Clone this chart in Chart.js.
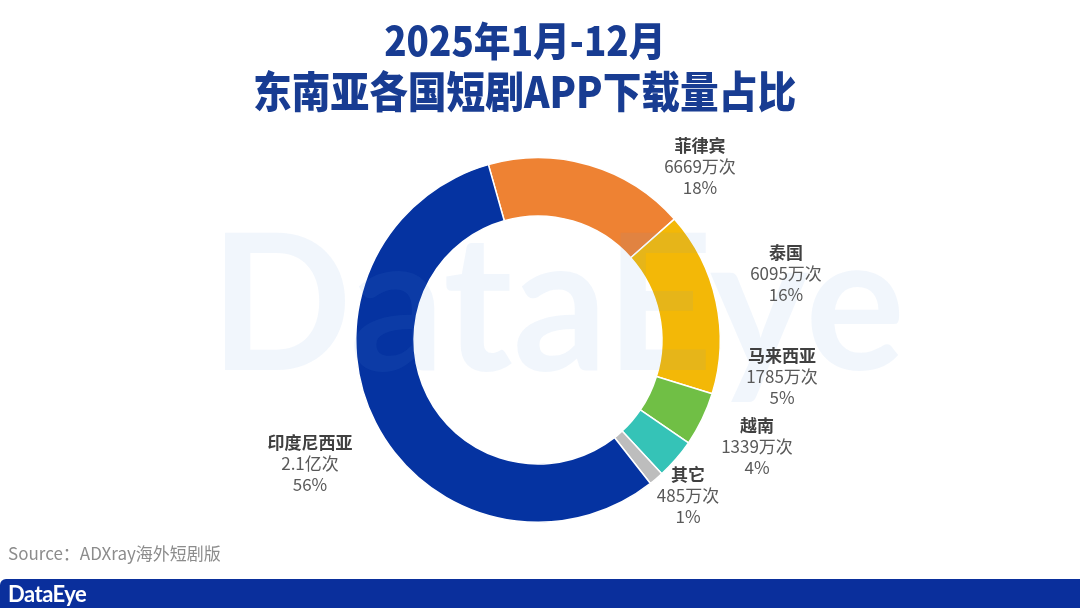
<!DOCTYPE html>
<html>
<head>
<meta charset="utf-8">
<script src="https://cdn.jsdelivr.net/npm/chart.js@4"></script>
<style>
html,body{margin:0;padding:0;background:#fff;}
#wrap{position:relative;width:1080px;height:608px;overflow:hidden;font-family:"Noto Sans CJK SC","Noto Sans",sans-serif;}
#c{position:absolute;left:0;top:0;}
.t{position:absolute;left:0;width:1080px;text-align:center;color:#183c92;font-weight:900;white-space:nowrap;transform-origin:526px 0;}
#t1{top:15px;font-size:40px;line-height:48px;left:-14px;transform:scaleX(0.92);}
#t2{top:63px;font-size:43px;line-height:52px;left:-14px;transform:scaleX(0.9);}
#src{position:absolute;left:8px;top:540px;font-size:17px;color:#8c8c8c;}
#bar{position:absolute;left:0;top:579px;width:1080px;height:29px;background:#0a2f9c;border-top-left-radius:6px;}
#logo{position:absolute;left:8px;top:0px;font-size:22px;line-height:29px;color:#fff;font-weight:700;font-family:"Lato","Noto Sans",sans-serif;letter-spacing:-0.5px;}
</style>
</head>
<body>
<div id="wrap">
<canvas id="c" width="1080" height="608"></canvas>
<div class="t" id="t1">2025年1月-12月</div>
<div class="t" id="t2">东南亚各国短剧APP下载量占比</div>
<div id="src">Source：ADXray海外短剧版</div>
<div id="bar"><div id="logo">DataEye</div></div>
</div>
<script>
// Data
const countries = ["菲律宾","泰国","马来西亚","越南","其它","印度尼西亚"];
const downloads = [6669, 6095, 1785, 1339, 485, 21000]; // 万次
const valueLabels = ["6669万次","6095万次","1785万次","1339万次","485万次","2.1亿次"];
const pctLabels = ["18%","16%","5%","4%","1%","56%"];
const colors = ["#ee8233","#f3b807","#70bf45","#35c3b7","#bdbdbd","#0533a1"];

// Label anchor offsets from doughnut centre (annotation layout)
const labelOffsets = [[162,-173],[248,-66],[244,37],[219,107],[150,156],[-228,124]];

const labelPlugin = {
  id:'labels',
  afterDraw(chart){
    const ctx = chart.ctx;
    const arc = chart.getDatasetMeta(0).data[0];
    const cx = arc.x, cy = arc.y;
    // watermark
    ctx.save();
    ctx.font = '700 190px "Lato","Noto Sans",sans-serif';
    const w = ctx.measureText('DataEye').width;
    ctx.translate(cx - 328, cy + 30);
    ctx.scale(695 / w, 1);
    ctx.fillStyle = 'rgba(90,150,215,0.085)';
    ctx.textBaseline = 'alphabetic';
    ctx.fillText('DataEye', 0, 0);
    ctx.restore();
    // labels
    ctx.save();
    ctx.textAlign = 'center';
    ctx.textBaseline = 'middle';
    countries.forEach((name, i) => {
      const x = cx + labelOffsets[i][0], y = cy + labelOffsets[i][1];
      ctx.fillStyle = '#404040';
      ctx.font = '700 17px "Noto Sans CJK SC",sans-serif';
      ctx.fillText(name, x, y - 21);
      ctx.fillStyle = '#595959';
      ctx.font = '400 17px "Noto Sans CJK SC",sans-serif';
      ctx.fillText(valueLabels[i], x, y);
      ctx.fillText(pctLabels[i], x, y + 21);
    });
    ctx.restore();
  }
};

new Chart(document.getElementById('c'), {
  type:'doughnut',
  data:{
    labels: countries,
    datasets:[{
      data: downloads,
      backgroundColor: colors,
      borderColor:'#ffffff',
      borderWidth:1.5,
      hoverOffset:0
    }]
  },
  options:{
    responsive:false,
    animation:false,
    rotation:-15.8,
    cutout:'68%',
    layout:{padding:{left:355,right:359,top:157,bottom:85}},
    plugins:{legend:{display:false},tooltip:{enabled:false}}
  },
  plugins:[labelPlugin]
});
</script>
</body>
</html>
